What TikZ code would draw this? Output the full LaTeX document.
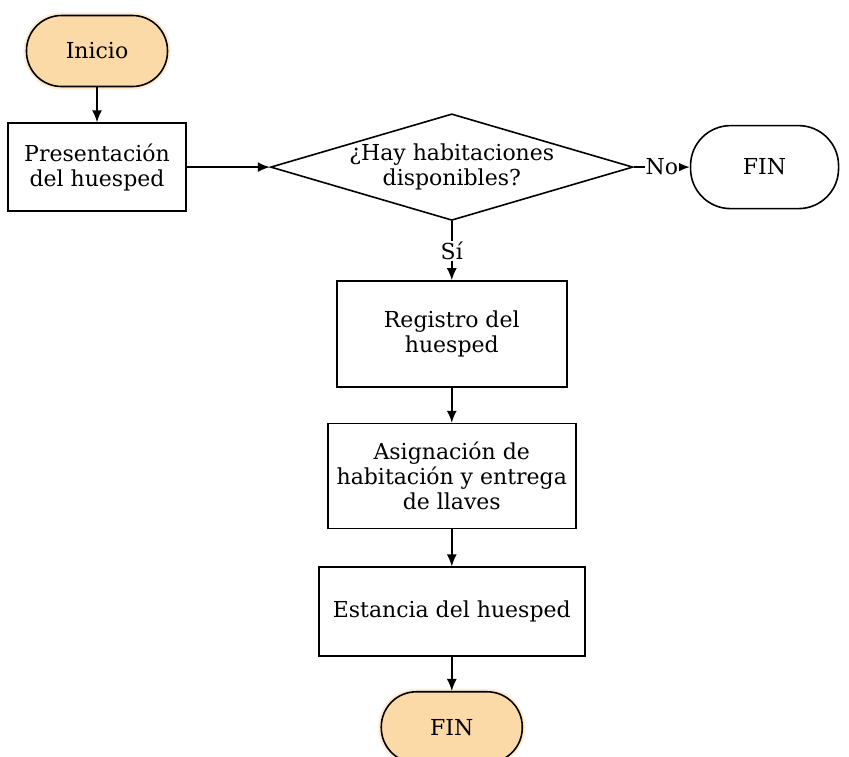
\documentclass[tikz,border=0pt]{standalone}
\usepackage{fontspec}
\setmainfont{DejaVu Serif}
\usepackage{tikz}
\usetikzlibrary{positioning,shapes.geometric,arrows.meta}
\usepackage{xcolor}
\definecolor{inicioFill}{RGB}{252,218,168}
\definecolor{inicioGlow}{RGB}{253,236,210}

\begin{document}
\begin{tikzpicture}[
    % estilos
    font=\fontsize{22}{25}\selectfont,
    terminal/.style={rectangle, draw=black, line width=1.6pt, rounded corners=35pt, minimum width=141pt, minimum height=71pt, inner sep=0pt},
    terminalfill/.style={terminal, fill=inicioFill, preaction={draw=inicioGlow, line width=6pt}},
    processbox/.style={rectangle, draw=black, line width=1.6pt, align=center, inner sep=0pt},
    decisionbox/.style={diamond, draw=black, line width=1.6pt, align=center, inner sep=0pt, aspect=3.4, minimum width=350pt, minimum height=103pt},
    flecha/.style={line width=1.6pt, -{Latex[length=12pt, width=10pt]}},
    etiqueta/.style={fill=white, inner sep=1pt},
    ]
    \useasboundingbox (0pt,0pt) rectangle (849pt,-756pt);
    %Nodos
    \node[terminalfill] (inicio) at (97pt,-51pt) {Inicio};
    \node[processbox, minimum width=178pt, minimum height=88pt] (presentacion) [below=35pt of inicio] {Presentación\\del huesped};
    \node[decisionbox] (disponible) [right=83pt of presentacion] {¿Hay habitaciones\\disponibles?};
    \node[terminal, minimum width=148pt, minimum height=83pt, rounded corners=40pt] (finNo) [right=56pt of disponible] {FIN};
    \node[processbox, minimum width=230pt, minimum height=106pt] (registro) [below=59pt of disponible] {Registro del\\huesped};
    \node[processbox, minimum width=248pt, minimum height=105pt] (asignacion) [below=35pt of registro] {Asignación de\\habitación y entrega\\de llaves};
    \node[processbox, minimum width=266pt, minimum height=89pt] (estancia) [below=37pt of asignacion] {Estancia del huesped};
    \node[terminalfill] (finSi) [below=34pt of estancia] {FIN};

    %Conectores
    \draw[flecha] (inicio) -- (presentacion);
    \draw[flecha] (presentacion) -- (disponible);
    \draw[flecha] (disponible) -- node[etiqueta] {No} (finNo);
    \draw[flecha] (disponible) -- node[etiqueta] {Sí} (registro);
    \draw[flecha] (registro) -- (asignacion);
    \draw[flecha] (asignacion) -- (estancia);
    \draw[flecha] (estancia) -- (finSi);
\end{tikzpicture}
\end{document}
